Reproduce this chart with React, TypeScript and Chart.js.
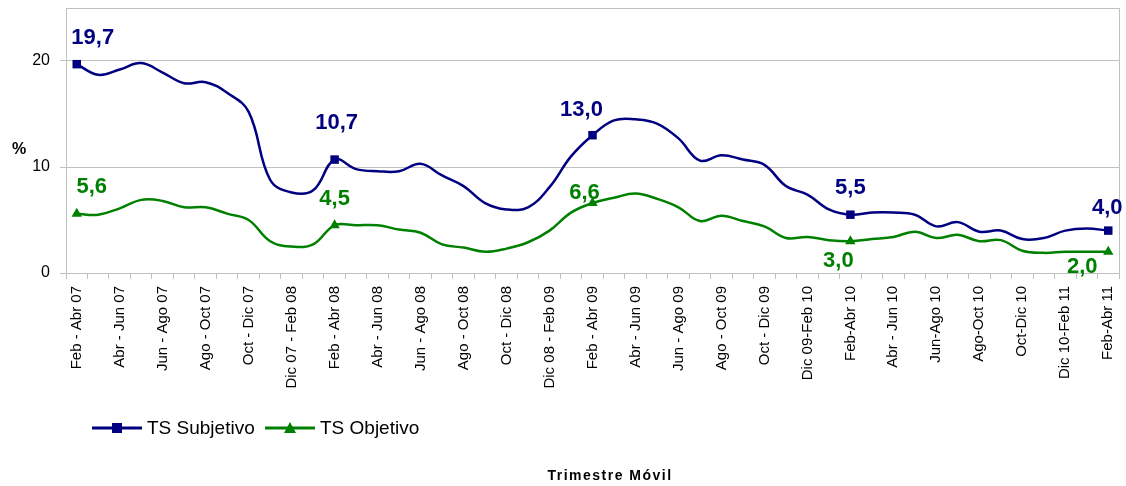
import React, { useEffect, useRef } from "react";
import { Chart, registerables } from "chart.js";

Chart.register(...registerables);

const FONT = '"Liberation Sans", Arial, sans-serif';

const categories = [
  "Feb - Abr 07", "Mar - May 07", "Abr - Jun 07", "May - Jul 07", "Jun - Ago 07", "Jul - Sep 07",
  "Ago - Oct 07", "Sep - Nov 07", "Oct - Dic 07", "Nov 07 - Ene 08", "Dic 07 - Feb 08", "Ene - Mar 08",
  "Feb - Abr 08", "Mar - May 08", "Abr - Jun 08", "May - Jul 08", "Jun - Ago 08", "Jul - Sep 08",
  "Ago - Oct 08", "Sep - Nov 08", "Oct - Dic 08", "Nov 08 - Ene 09", "Dic 08 - Feb 09", "Ene - Mar 09",
  "Feb - Abr 09", "Mar - May 09", "Abr - Jun 09", "May - Jul 09", "Jun - Ago 09", "Jul - Sep 09",
  "Ago - Oct 09", "Sep - Nov 09", "Oct - Dic 09", "Nov 09-Ene 10", "Dic 09-Feb 10", "Ene-Mar 10",
  "Feb-Abr 10", "Mar-May 10", "Abr - Jun 10", "May-Jul 10", "Jun-Ago 10", "Jul-Sep 10",
  "Ago-Oct 10", "Sep-Nov 10", "Oct-Dic 10", "Nov 10-Ene 11", "Dic 10-Feb 11", "Ene-Mar 11",
  "Feb-Abr 11",
];

const subjetivo = [
  19.7, 18.7, 19.2, 19.8, 18.9, 17.9, 18.0, 17.0, 15.2, 8.8, 7.6, 7.8,
  10.7, 9.8, 9.6, 9.6, 10.3, 9.2, 8.2, 6.6, 6.0, 6.2, 8.1, 11.0,
  13.0, 14.4, 14.5, 14.1, 12.7, 10.6, 11.1, 10.7, 10.2, 8.2, 7.4, 6.0,
  5.5, 5.7, 5.7, 5.5, 4.4, 4.8, 3.9, 4.0, 3.2, 3.3, 4.0, 4.2,
  4.0,
];

const objetivo = [
  5.6, 5.5, 6.1, 6.9, 6.8, 6.2, 6.2, 5.6, 5.0, 3.0, 2.5, 2.7,
  4.5, 4.5, 4.5, 4.1, 3.8, 2.7, 2.4, 2.0, 2.3, 2.9, 4.0, 5.7,
  6.6, 7.1, 7.5, 7.0, 6.2, 4.9, 5.4, 4.9, 4.4, 3.3, 3.4, 3.1,
  3.0, 3.2, 3.4, 3.9, 3.3, 3.6, 3.0, 3.1, 2.1, 1.9, 2.0, 2.0,
  2.0,
];

const markerIdx = [0, 12, 24, 36, 48];
const yTicks = [0, 10, 20];
const seriesNames = ["TS Subjetivo", "TS Objetivo"];
const seriesColors = ["#000080", "#008000"];

// label offsets (dx, dy) relative to marker for each labelled point
const subjLabelOffsets = [[16, -26], [2, -37], [-11, -25], [0, -27], [-1, -23]];
const objLabelOffsets = [[15, -27], [0, -26], [-8, -10], [-12, 20], [-26, 15]];

const fmt = (v: number) => v.toFixed(1).replace(".", ",");

const decorPlugin = {
  id: "decor",
  beforeDatasetsDraw(chart: any) {
    const { ctx, chartArea } = chart;
    ctx.save();
    ctx.strokeStyle = "#C0C0C0";
    ctx.lineWidth = 1;
    ctx.strokeRect(
      Math.round(chartArea.left) + 0.5,
      Math.round(chartArea.top) + 0.5,
      Math.round(chartArea.right - chartArea.left),
      Math.round(chartArea.bottom - chartArea.top)
    );
    ctx.restore();
  },
  afterDraw(chart: any) {
    const { ctx } = chart;
    ctx.save();
    // data labels
    ctx.font = `bold 22px ${FONT}`;
    ctx.textAlign = "center";
    ctx.textBaseline = "middle";
    const offs = [subjLabelOffsets, objLabelOffsets];
    [0, 1].forEach((d) => {
      const meta = chart.getDatasetMeta(d);
      const data = chart.data.datasets[d].data as number[];
      ctx.fillStyle = seriesColors[d];
      markerIdx.forEach((idx, k) => {
        const el = meta.data[idx];
        const [dx, dy] = offs[d][k];
        ctx.fillText(fmt(data[idx]), el.x + dx, el.y + dy);
      });
    });

    // y axis title "%"
    ctx.fillStyle = "#000";
    ctx.font = `bold 16px ${FONT}`;
    ctx.fillText("%", 19, 150);

    // x axis title
    ctx.font = `bold 14px ${FONT}`;
    (ctx as any).letterSpacing = "1.5px";
    ctx.fillText("Trimestre Móvil", 610, 476);
    (ctx as any).letterSpacing = "0px";

    // legend
    const ly = 428;
    ctx.font = `19px ${FONT}`;
    ctx.textAlign = "left";
    // Subjetivo
    ctx.strokeStyle = seriesColors[0];
    ctx.lineWidth = 3;
    ctx.beginPath();
    ctx.moveTo(92, ly);
    ctx.lineTo(142, ly);
    ctx.stroke();
    ctx.fillStyle = seriesColors[0];
    ctx.fillRect(112, ly - 5, 10, 10);
    ctx.fillStyle = "#000";
    ctx.fillText(seriesNames[0], 147, ly + 1);
    // Objetivo
    ctx.strokeStyle = seriesColors[1];
    ctx.beginPath();
    ctx.moveTo(265, ly);
    ctx.lineTo(315, ly);
    ctx.stroke();
    ctx.fillStyle = seriesColors[1];
    ctx.beginPath();
    ctx.moveTo(290, ly - 6);
    ctx.lineTo(296, ly + 5);
    ctx.lineTo(284, ly + 5);
    ctx.closePath();
    ctx.fill();
    ctx.fillStyle = "#000";
    ctx.fillText(seriesNames[1], 320, ly + 1);
    ctx.restore();
  },
};

export default function App() {
  const ref = useRef<HTMLCanvasElement | null>(null);

  useEffect(() => {
    if (!ref.current) return;
    const radii = categories.map((_, i) => (markerIdx.includes(i) ? 6 : 0));
    const chart = new Chart(ref.current, {
      type: "line",
      data: {
        labels: categories,
        datasets: [
          {
            label: seriesNames[0],
            data: subjetivo,
            borderColor: seriesColors[0],
            backgroundColor: seriesColors[0],
            borderWidth: 2.5,
            tension: 0.4,
            pointStyle: "rect",
            pointRadius: radii,
            pointBorderWidth: 0,
            pointBackgroundColor: seriesColors[0],
            fill: false,
          },
          {
            label: seriesNames[1],
            data: objetivo,
            borderColor: seriesColors[1],
            backgroundColor: seriesColors[1],
            borderWidth: 2.5,
            tension: 0.4,
            pointStyle: "triangle",
            pointRadius: radii,
            pointBorderWidth: 0,
            pointBackgroundColor: seriesColors[1],
            fill: false,
          },
        ],
      },
      options: {
        animation: false,
        responsive: false,
        maintainAspectRatio: false,
        layout: { padding: { top: 8, right: 7, left: 0, bottom: 0 } },
        plugins: {
          legend: { display: false },
          tooltip: { enabled: false },
          title: { display: false },
        },
        scales: {
          x: {
            type: "category",
            offset: true,
            grid: {
              offset: true,
              drawOnChartArea: false,
              drawTicks: true,
              tickLength: 6,
              color: "#C0C0C0",
            },
            border: { color: "#C0C0C0", width: 1 },
            ticks: {
              autoSkip: false,
              maxRotation: 90,
              minRotation: 90,
              padding: 7,
              color: "#000",
              font: { family: FONT, size: 15 },
              callback: (_v: any, i: number) => (i % 2 === 0 ? categories[i] : ""),
            },
            afterFit: (s: any) => {
              s.height = 213;
              s.paddingLeft = 0;
              s.paddingRight = 0;
              s.paddingTop = 0;
              s.paddingBottom = 0;
            },
          },
          y: {
            min: 0,
            max: 25,
            afterBuildTicks: (s: any) => {
              s.ticks = yTicks.map((v) => ({ value: v }));
            },
            ticks: {
              color: "#000",
              padding: 10,
              font: { family: FONT, size: 16 },
            },
            grid: { color: "#C0C0C0", tickLength: 6 },
            border: { color: "#C0C0C0" },
            afterFit: (s: any) => {
              s.width = 66;
              s.paddingLeft = 0;
              s.paddingRight = 0;
              s.paddingTop = 0;
              s.paddingBottom = 0;
            },
          },
        },
      },
      plugins: [decorPlugin],
    });
    return () => chart.destroy();
  }, []);

  return (
    <div style={{ position: "absolute", left: 0, top: 0, width: 1126, height: 486, background: "#fff" }}>
      <canvas ref={ref} width={1126} height={486} style={{ display: "block" }} />
    </div>
  );
}
